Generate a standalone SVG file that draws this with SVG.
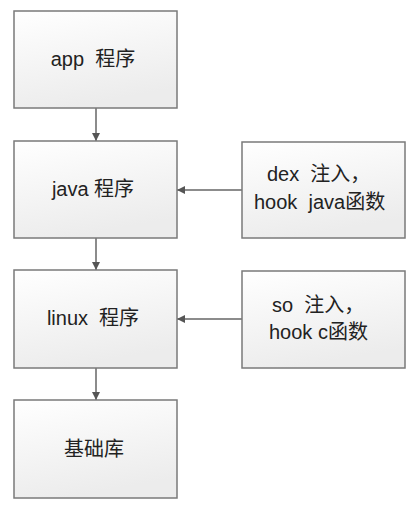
<svg xmlns="http://www.w3.org/2000/svg" width="420" height="518" viewBox="0 0 420 518">
<defs>
<linearGradient id="g" x1="0" y1="0" x2="0.3" y2="1">
<stop offset="0" stop-color="#ffffff"/>
<stop offset="1" stop-color="#ececec"/>
</linearGradient>
<marker id="ah" markerWidth="8" markerHeight="8" refX="8" refY="4" orient="auto" markerUnits="userSpaceOnUse">
<path d="M0,0 L8,4 L0,8 Z" fill="#555"/>
</marker>
<style>
.box{fill:url(#g);stroke:#7a7a7a;stroke-width:1.5}
.t{font-family:"Liberation Sans","Noto Sans CJK SC",sans-serif;font-size:20px;fill:#222;white-space:pre}
.c{stroke:#666;stroke-width:1.5;fill:none}
</style>
</defs>
<rect width="420" height="518" fill="#ffffff"/>
<g id="connectors">
<line class="c" x1="96" y1="108" x2="96" y2="141" marker-end="url(#ah)"/>
<line class="c" x1="96" y1="238" x2="96" y2="270" marker-end="url(#ah)"/>
<line class="c" x1="96" y1="368" x2="96" y2="400" marker-end="url(#ah)"/>
<line class="c" x1="242" y1="190" x2="177" y2="190" marker-end="url(#ah)"/>
<line class="c" x1="242" y1="319" x2="177" y2="319" marker-end="url(#ah)"/>
</g>
<g id="app">
<rect class="box" x="14" y="11" width="163" height="97"/>
<text class="t" x="93" y="66" text-anchor="middle" xml:space="preserve">app  程序</text>
</g>
<g id="java">
<rect class="box" x="14" y="141" width="163" height="97"/>
<text class="t" x="93" y="196" text-anchor="middle" xml:space="preserve">java 程序</text>
</g>
<g id="linux">
<rect class="box" x="14" y="270" width="163" height="98"/>
<text class="t" x="93" y="325" text-anchor="middle" xml:space="preserve">linux  程序</text>
</g>
<g id="base">
<rect class="box" x="14" y="400" width="163" height="98"/>
<text class="t" x="94" y="456" text-anchor="middle">基础库</text>
</g>
<g id="dex">
<rect class="box" x="242" y="142" width="163" height="96"/>
<text class="t" x="267" y="181" xml:space="preserve">dex  注入，</text>
<text class="t" x="254" y="209" xml:space="preserve">hook  java函数</text>
</g>
<g id="so">
<rect class="box" x="242" y="271" width="163" height="97"/>
<text class="t" x="272" y="312" xml:space="preserve">so  注入，</text>
<text class="t" x="269" y="339" xml:space="preserve">hook c函数</text>
</g>
</svg>
